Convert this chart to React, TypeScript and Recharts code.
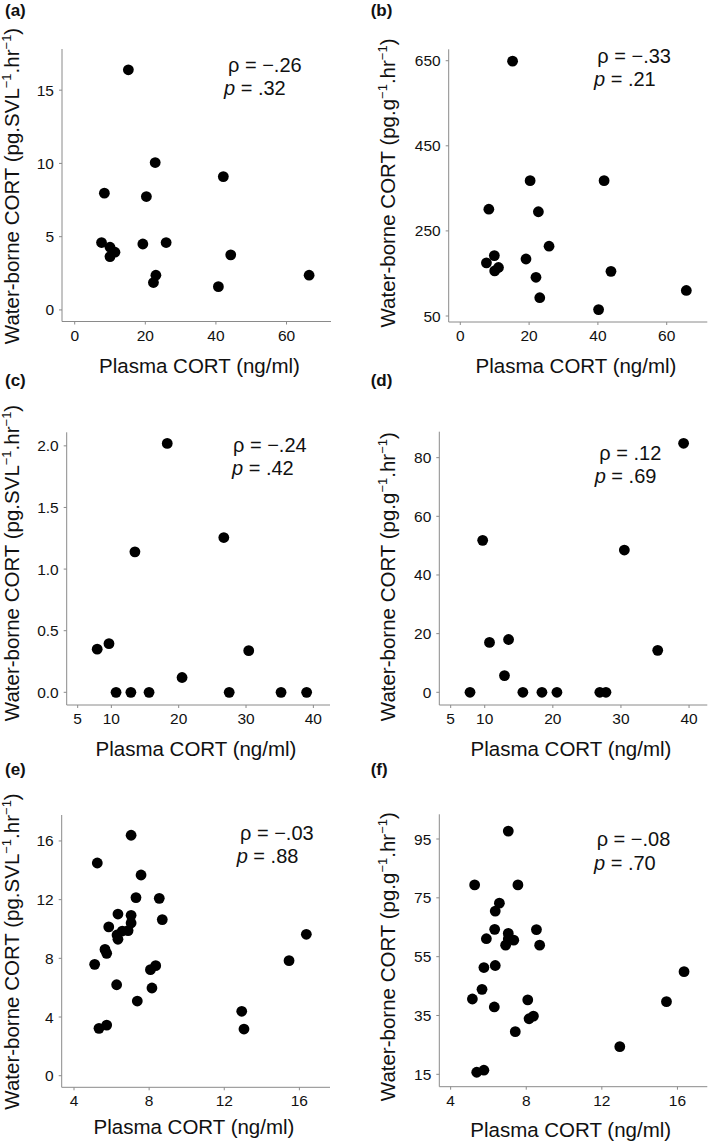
import React from 'react';
import { ScatterChart, Scatter, XAxis, YAxis } from 'recharts';

// ---------- data ----------
const aX = [15.2, 8.4, 7.6, 10.0, 11.4, 10.0, 22.8, 20.3, 19.3, 25.9, 23.0, 22.3, 42.1, 44.2, 40.7, 66.4];
const aY = [16.39, 7.97, 4.6, 4.28, 3.94, 3.64, 10.06, 7.74, 4.5, 4.6, 2.37, 1.87, 9.1, 3.76, 1.59, 2.37];

const bX = [15.2, 8.3, 20.3, 41.8, 22.7, 25.8, 7.6, 9.9, 11.1, 10.0, 19.1, 22.0, 23.1, 43.8, 40.2, 65.7];
const bY = [649, 301, 368, 368, 295, 214, 175, 192, 164, 156, 184, 141, 93, 155, 65, 110];

const cX = [7.9, 9.65, 10.7, 12.9, 15.6, 13.5, 18.3, 20.5, 26.7, 27.5, 30.4, 35.2, 39.0];
const cY = [0.35, 0.395, 0, 0, 0, 1.14, 2.02, 0.12, 1.256, 0, 0.338, 0, 0];

const dX = [7.84, 9.7, 10.7, 13.5, 12.9, 15.6, 18.4, 20.6, 26.9, 27.8, 30.5, 35.4, 39.2];
const dY = [0, 51.8, 17.0, 18.0, 5.7, 0, 0, 0, 0, 0, 48.5, 14.3, 84.9];

const eX = [7.04, 5.24, 7.57, 7.30, 8.54, 6.34, 7.04, 8.70, 7.04, 5.85, 6.57, 6.88, 6.29, 6.34, 5.65, 5.74, 5.10, 8.07, 8.35, 8.15, 6.27, 7.37, 5.33, 5.74, 12.93, 13.05, 15.45, 16.37];
const eY = [16.39, 14.5, 13.68, 12.14, 12.09, 11.02, 10.93, 10.64, 10.41, 10.14, 9.86, 9.89, 9.59, 9.30, 8.61, 8.34, 7.59, 7.23, 7.5, 5.98, 6.2, 5.09, 3.23, 3.45, 4.39, 3.18, 7.84, 9.64];

const fX = [7.05, 5.27, 7.56, 6.58, 6.36, 6.33, 8.54, 7.05, 5.89, 7.34, 7.05, 6.91, 8.71, 5.76, 6.36, 5.66, 5.15, 8.08, 6.31, 8.38, 8.15, 7.42, 5.38, 5.76, 12.95, 15.42, 16.35];
const fY = [97.7, 79.4, 79.4, 73.2, 70.5, 64.3, 64.2, 62.9, 61.1, 60.6, 61.0, 58.9, 58.9, 51.3, 52.0, 43.9, 40.6, 40.3, 37.9, 34.8, 33.9, 29.5, 15.7, 16.4, 24.4, 39.7, 49.9];

const ticksAB = [0, 20, 40, 60];
const ticksCD = [5, 10, 20, 30, 40];
const ticksEF = [4, 8, 12, 16];
const yTicksA = [0, 5, 10, 15];
const yTicksB = [50, 250, 450, 650];
const yTicksC = [0, 0.5, 1, 1.5, 2];
const yTicksD = [0, 20, 40, 60, 80];
const yTicksE = [0, 4, 8, 12, 16];
const yTicksF = [15, 35, 55, 75, 95];

const tags = ['(a)', '(b)', '(c)', '(d)', '(e)', '(f)'];
const rhos = ['\u2212.26', '\u2212.33', '\u2212.24', '.12', '\u2212.03', '\u2212.08'];
const pvals = ['.32', '.21', '.42', '.69', '.88', '.70'];
const X_LABEL = 'Plasma CORT (ng/ml)';

const toData = (xs: number[], ys: number[]) => xs.map((x, i) => ({ x, y: ys[i] }));

// ---------- styling ----------
const FONT = "'Liberation Sans', Arial, Helvetica, sans-serif";
const AXIS = '#8a8a8a';
const INK = '#111';
const PAGE_H = 1142;
const TICK_FS = 15.5;

type Cfg = {
  ox: number; W: number;
  left: number; right: number; top: number; bottom: number; // page coords
  xDomain: [number, number]; yDomain: [number, number];
  xTicks: number[]; yTicks: number[]; yFmt?: (v: number) => string;
  data: { x: number; y: number }[];
  tag: string; tagPos: [number, number];
  xLabelPos: [number, number];
  unit: 'SVL' | 'g'; yLabelPos: [number, number];
  rho: string; p: string; ann1: [number, number]; ann2: [number, number];
};

const YAW = 60;
const XAH = 30;

function YLabel({ unit, pos }: { unit: 'SVL' | 'g'; pos: [number, number] }) {
  const [bx, cy] = pos;
  const sup = 13;
  return (
    <text x={bx} y={cy} transform={`rotate(-90 ${bx} ${cy})`} textAnchor="middle"
      fontSize={20.5} fontFamily={FONT} fill={INK}>
      <tspan>{`Water-borne CORT (pg.${unit}`}</tspan>
      <tspan dy={-8} fontSize={sup}>{'\u22121'}</tspan>
      <tspan dy={8}>.hr</tspan>
      <tspan dy={-8} fontSize={sup}>{'\u22121'}</tspan>
      <tspan dy={8}>)</tspan>
    </text>
  );
}

const XTick = (p: any) => (
  <text x={p.x} y={p.y} dy="0.71em" textAnchor="middle" fontSize={TICK_FS} fontFamily={FONT} fill={INK}>
    {String(p.payload.value)}
  </text>
);

const makeYTick = (fmt?: (v: number) => string) => (p: any) => (
  <text x={p.x} y={p.y} dy="0.355em" textAnchor="end" fontSize={TICK_FS} fontFamily={FONT} fill={INK}>
    {fmt ? fmt(p.payload.value) : String(p.payload.value)}
  </text>
);

function Panel({ c }: { c: Cfg }) {
  // local x = page x - ox ; local y = page y (every chart spans the full page height)
  const lx = (x: number) => x - c.ox;
  const margin = { top: c.top, right: c.W - lx(c.right), left: lx(c.left) - YAW, bottom: PAGE_H - c.bottom - XAH };
  const overlay = () => (
    <g>
      <text x={lx(c.tagPos[0])} y={c.tagPos[1]} fontSize={17} fontWeight="bold" fontFamily={FONT} fill={INK}>{c.tag}</text>
      <text x={lx(c.xLabelPos[0])} y={c.xLabelPos[1]} textAnchor="middle" fontSize={20.5} fontFamily={FONT} fill={INK}>{X_LABEL}</text>
      <text x={lx(c.ann1[0])} y={c.ann1[1]} fontSize={20} fontFamily={FONT} fill={INK}>{`\u03C1 = ${c.rho}`}</text>
      <text x={lx(c.ann2[0])} y={c.ann2[1]} fontSize={20} fontFamily={FONT} fill={INK}>
        <tspan fontStyle="italic">p</tspan>{` = ${c.p}`}
      </text>
    </g>
  );
  const yOverlay = () => <YLabel unit={c.unit} pos={[lx(c.yLabelPos[0]), c.yLabelPos[1]]} />;
  return (
    <div style={{ position: 'absolute', left: c.ox, top: 0, width: c.W, height: PAGE_H, pointerEvents: 'none' }}>
      <ScatterChart width={c.W} height={PAGE_H} margin={margin}>
        <XAxis type="number" dataKey="x" domain={c.xDomain} ticks={c.xTicks} interval={0}
          allowDataOverflow height={XAH} tickSize={3} tickMargin={5}
          axisLine={{ stroke: AXIS, strokeWidth: 1 }} tickLine={{ stroke: AXIS }}
          tick={XTick}
          label={{ content: overlay }} />
        <YAxis type="number" dataKey="y" domain={c.yDomain} ticks={c.yTicks} interval={0}
          allowDataOverflow width={YAW} tickSize={3} tickMargin={5}
          axisLine={{ stroke: AXIS, strokeWidth: 1 }} tickLine={{ stroke: AXIS }}
          tick={makeYTick(c.yFmt)}
          label={{ content: yOverlay }} />
        <Scatter data={c.data} isAnimationActive={false}
          shape={(p: any) => <circle cx={p.cx} cy={p.cy} r={5.4} fill="#000" />} />
      </ScatterChart>
    </div>
  );
}

const panels: Cfg[] = [
  {
    ox: 0, W: 354, left: 62, right: 331, top: 49, bottom: 321.5,
    xDomain: [-3.6, 72.6], yDomain: [-0.79, 17.81], xTicks: ticksAB, yTicks: yTicksA,
    data: toData(aX, aY), tag: tags[0], tagPos: [5, 16], xLabelPos: [199.5, 373],
    unit: 'SVL', yLabelPos: [19.3, 186], rho: rhos[0], p: pvals[0], ann1: [228, 72], ann2: [224, 95],
  },
  {
    ox: 354, W: 355, left: 448.7, right: 707.3, top: 49.3, bottom: 322,
    xDomain: [-3.37, 71.8], yDomain: [35.9, 676.8], xTicks: ticksAB, yTicks: yTicksB,
    data: toData(bX, bY), tag: tags[1], tagPos: [370.7, 16], xLabelPos: [576, 373],
    unit: 'g', yLabelPos: [394.7, 183], rho: rhos[1], p: pvals[1], ann1: [597.3, 63.3], ann2: [594, 86],
  },
  {
    ox: 0, W: 354, left: 66.7, right: 330, top: 432.3, bottom: 705,
    xDomain: [3.37, 42.47], yDomain: [-0.103, 2.11], xTicks: ticksCD, yTicks: yTicksC,
    yFmt: (v: number) => v.toFixed(1),
    data: toData(cX, cY), tag: tags[2], tagPos: [5, 386], xLabelPos: [196, 755.7],
    unit: 'SVL', yLabelPos: [19.3, 563], rho: rhos[2], p: pvals[2], ann1: [233, 451.7], ann2: [232, 475],
  },
  {
    ox: 354, W: 355, left: 439.3, right: 707.3, top: 431.7, bottom: 705,
    xDomain: [3.33, 42.68], yDomain: [-4.33, 88.85], xTicks: ticksCD, yTicks: yTicksD,
    data: toData(dX, dY), tag: tags[3], tagPos: [370.7, 386], xLabelPos: [571, 756],
    unit: 'g', yLabelPos: [394.7, 576.7], rho: rhos[3], p: pvals[3], ann1: [599.3, 460], ann2: [594.7, 483.3],
  },
  {
    ox: 0, W: 354, left: 61.7, right: 330, top: 815, bottom: 1087.3,
    xDomain: [3.345, 17.63], yDomain: [-0.79, 17.77], xTicks: ticksEF, yTicks: yTicksE,
    data: toData(eX, eY), tag: tags[4], tagPos: [5, 775], xLabelPos: [194, 1134],
    unit: 'SVL', yLabelPos: [19.3, 951.5], rho: rhos[4], p: pvals[4], ann1: [240, 840], ann2: [236.7, 863.3],
  },
  {
    ox: 354, W: 355, left: 439.3, right: 707.3, top: 814.3, bottom: 1086.7,
    xDomain: [3.4, 17.58], yDomain: [10.79, 103.4], xTicks: ticksEF, yTicks: yTicksF,
    data: toData(fX, fY), tag: tags[5], tagPos: [370.7, 775], xLabelPos: [570.7, 1136.5],
    unit: 'g', yLabelPos: [394.7, 956.7], rho: rhos[5], p: pvals[5], ann1: [596.7, 845.7], ann2: [594, 870],
  },
];

export default function App() {
  return (
    <div style={{ position: 'absolute', left: 0, top: 0, width: 709, height: PAGE_H, overflow: 'hidden', background: '#fff' }}>
      {panels.map((c, i) => <Panel key={i} c={c} />)}
    </div>
  );
}
